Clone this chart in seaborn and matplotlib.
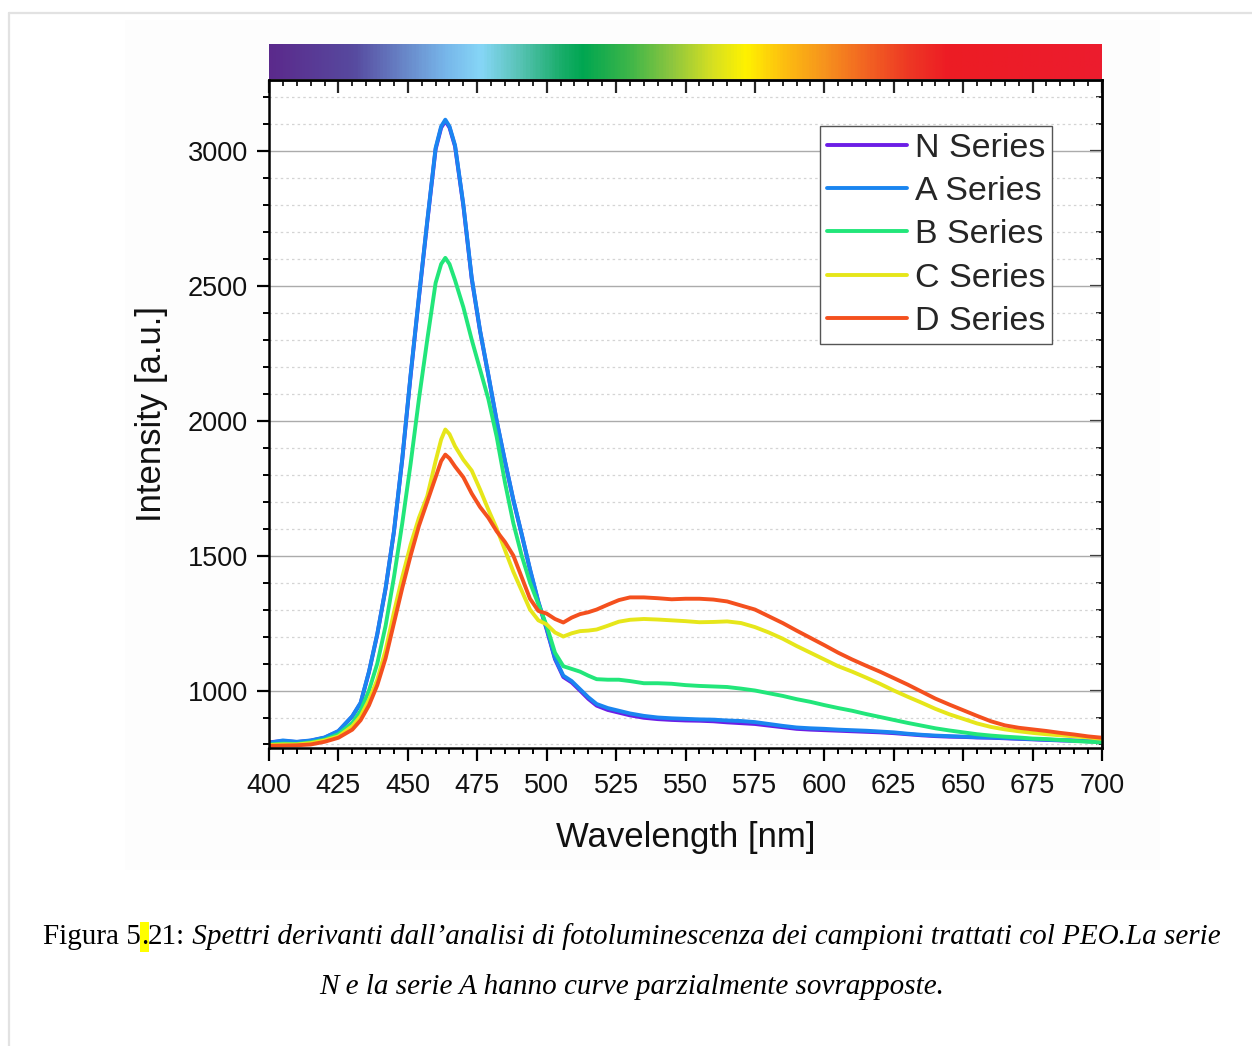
import numpy as np
import pandas as pd
import matplotlib
matplotlib.use("Agg")
import matplotlib.pyplot as plt
import seaborn as sns
from matplotlib.colors import LinearSegmentedColormap
from matplotlib.lines import Line2D
from matplotlib.patches import Rectangle
from matplotlib.ticker import MultipleLocator

# ---- photoluminescence spectra (intensity in a.u. vs wavelength in nm) ----
wavelength = [400, 405, 410, 415, 420, 425, 430, 433, 436, 439, 442, 445, 448, 451, 454,
              457, 460, 462, 463.5, 465, 467, 470, 473, 476, 479, 482, 485, 488, 491, 494,
              497, 500, 503, 506, 509, 512, 515, 518, 522, 526, 530, 535, 540, 545, 550,
              555, 560, 565, 570, 575, 580, 585, 590, 595, 600, 605, 610, 615, 620, 625,
              630, 635, 640, 645, 650, 655, 660, 665, 670, 675, 680, 685, 690, 695, 700]

n_series = [808, 813, 809, 814, 825, 849, 904, 953, 1068, 1208, 1378, 1588, 1857, 2166, 2456,
            2736, 3005, 3085, 3110, 3086, 3016, 2796, 2526, 2332, 2167, 1998, 1848, 1705, 1578, 1447,
            1327, 1226, 1116, 1050, 1030, 1000, 969, 944, 928, 918, 908, 899, 894, 891, 889,
            888, 886, 882, 879, 876, 870, 864, 858, 855, 853, 851, 849, 847, 845, 842,
            838, 834, 831, 829, 828, 826, 825, 823, 821, 819, 817, 815, 814, 812, 811]

a_series = [806, 815, 810, 815, 826, 850, 905, 955, 1070, 1210, 1380, 1590, 1860, 2170, 2460,
            2740, 3010, 3090, 3115, 3090, 3020, 2800, 2530, 2335, 2170, 2000, 1850, 1707, 1580, 1450,
            1330, 1230, 1120, 1055, 1035, 1005, 975, 950, 935, 925, 915, 906, 900, 897, 895,
            893, 892, 889, 887, 883, 876, 869, 863, 860, 858, 855, 853, 851, 848, 845,
            840, 836, 833, 831, 829, 827, 826, 824, 822, 820, 818, 816, 815, 813, 812]

b_series = [800, 803, 802, 808, 818, 838, 880, 925, 1000, 1100, 1240, 1420, 1620, 1840, 2080,
            2300, 2510, 2580, 2603, 2580, 2520, 2420, 2300, 2190, 2080, 1940, 1770, 1620, 1500, 1400,
            1320, 1240, 1140, 1090, 1080, 1070, 1055, 1042, 1040, 1040, 1035, 1027, 1027, 1025, 1020,
            1017, 1015, 1013, 1007, 1000, 990, 980, 968, 958, 946, 935, 925, 913, 902, 891,
            880, 870, 860, 852, 845, 838, 833, 829, 826, 822, 820, 817, 813, 810, 808]

c_series = [798, 800, 800, 805, 815, 830, 868, 905, 965, 1040, 1150, 1290, 1420, 1540, 1640,
            1720, 1850, 1930, 1967, 1950, 1905, 1855, 1815, 1745, 1670, 1600, 1520, 1440, 1370, 1300,
            1260, 1245, 1215, 1200, 1212, 1220, 1222, 1226, 1240, 1255, 1262, 1265, 1263, 1260, 1257,
            1253, 1254, 1256, 1250, 1235, 1215, 1192, 1165, 1140, 1115, 1090, 1070, 1048, 1025, 1000,
            977, 955, 932, 912, 895, 878, 865, 856, 849, 843, 838, 834, 830, 826, 821]

d_series = [795, 796, 797, 800, 810, 825, 855, 890, 945, 1020, 1120, 1250, 1380, 1500, 1610,
            1700, 1790, 1850, 1874, 1860, 1830, 1790, 1730, 1680, 1640, 1590, 1550, 1500, 1420, 1340,
            1295, 1285, 1265, 1252, 1270, 1283, 1290, 1300, 1318, 1335, 1345, 1345, 1342, 1338, 1340,
            1340, 1337, 1330, 1315, 1300, 1275, 1250, 1222, 1195, 1168, 1140, 1115, 1092, 1070, 1046,
            1022, 996, 970, 948, 927, 906, 886, 871, 862, 856, 850, 843, 837, 830, 825]

series_names = ["N Series", "A Series", "B Series", "C Series", "D Series"]
series_values = [n_series, a_series, b_series, c_series, d_series]
series_colors = ["#6c1ee6", "#1a85f0", "#22e67a", "#e6e61a", "#f4501e"]

# visible-spectrum strip above the plot: (wavelength, colour) stops
spectrum_nm = [400, 430, 450, 463, 476, 490, 505, 513, 530, 545, 560, 572, 585, 600, 615, 630, 645, 700]
spectrum_hex = ["#5b2a8c", "#574a9f", "#6a8ccc", "#77b6ea", "#86d6f7", "#58c3b5", "#19ad6a",
                "#00a651", "#3fb649", "#8dc63f", "#d7e021", "#fff200", "#fdc010", "#f7941d",
                "#f26522", "#ee3a24", "#ed1c24", "#ec1c2e"]

caption_line1 = [("Figura 5", "normal", None),
                 (".", "normal", "#ffff00"),
                 ("21:", "normal", None),
                 (" Spettri derivanti dall\u2019analisi di fotoluminescenza dei campioni trattati col PEO.La serie",
                  "italic", None)]
caption_line2 = "N e la serie A hanno curve parzialmente sovrapposte."

frame = pd.concat(
    [pd.DataFrame({"Wavelength": wavelength, "Intensity": vals, "Series": name})
     for name, vals in zip(series_names, series_values)],
    ignore_index=True)

sns.set_theme(style="white")
plt.rcParams["font.family"] = ["Liberation Sans", "DejaVu Sans"]

W, H = 1252, 1046
fig = plt.figure(figsize=(W / 100, H / 100), dpi=100)
fig.patch.set_facecolor("white")

# page edges and the faint backdrop of the embedded graphic
fig.add_artist(Rectangle((125 / W, 1 - 870 / H), (1160 - 125) / W, (870 - 20) / H,
                         transform=fig.transFigure, facecolor="#fdfdfd", edgecolor="none", zorder=0))
fig.add_artist(Line2D([9 / W, 9 / W], [0, 1 - 13 / H], transform=fig.transFigure,
                      color="#e2e2e2", lw=1.6))
fig.add_artist(Line2D([9 / W, 1], [1 - 13 / H, 1 - 13 / H], transform=fig.transFigure,
                      color="#e2e2e2", lw=1.6))

ax_l, ax_r, ax_b, ax_t = 269 / W, 1102 / W, 1 - 748 / H, 1 - 80 / H
ax = fig.add_axes([ax_l, ax_b, ax_r - ax_l, ax_t - ax_b])
ax.set_facecolor("white")

line_w = 2.8
sns.lineplot(data=frame, x="Wavelength", y="Intensity", hue="Series",
             hue_order=series_names, palette=series_colors, estimator=None,
             sort=False, lw=line_w, ax=ax, legend=False)
for ln in ax.lines:
    ln.set_solid_joinstyle("round")
    ln.set_solid_capstyle("round")

ax.set_xlim(400, 700)
ax.set_ylim(787, 3262)
ax.xaxis.set_major_locator(MultipleLocator(25))
ax.xaxis.set_minor_locator(MultipleLocator(5))
ax.yaxis.set_major_locator(MultipleLocator(500))
ax.yaxis.set_minor_locator(MultipleLocator(100))

ax.grid(False)
ax.yaxis.grid(True, which="major", color="#ababab", lw=1.0, ls="-", zorder=0)
ax.yaxis.grid(True, which="minor", color="#d4d4d4", lw=0.9, ls=(0, (2, 2.5)), zorder=0)
ax.set_axisbelow(True)

for sp in ax.spines.values():
    sp.set_color("black")
    sp.set_linewidth(1.8)

ax.tick_params(axis="both", which="major", direction="out", length=9, width=1.6,
               labelsize=19.5, color="black", labelcolor="#111111")
ax.tick_params(axis="x", which="major", pad=9)
ax.tick_params(axis="y", which="major", pad=6)
ax.tick_params(axis="both", which="minor", direction="out", length=4.5, width=1.4, color="black")
ax.tick_params(left=True, bottom=True, which="both")

# mirrored inward ticks on top and right
top = ax.secondary_xaxis("top")
top.xaxis.set_major_locator(MultipleLocator(25))
top.xaxis.set_minor_locator(MultipleLocator(5))
top.tick_params(axis="x", which="major", direction="in", length=9, width=1.6, labeltop=False)
top.tick_params(axis="x", which="minor", direction="in", length=4.5, width=1.4)
top.spines["top"].set_linewidth(1.8)
right = ax.secondary_yaxis("right")
right.yaxis.set_major_locator(MultipleLocator(500))
right.yaxis.set_minor_locator(MultipleLocator(100))
right.tick_params(axis="y", which="major", direction="in", length=9, width=1.6, labelright=False)
right.tick_params(axis="y", which="minor", direction="in", length=4.5, width=1.4)
right.spines["right"].set_linewidth(1.8)

ax.set_xlabel("Wavelength [nm]", fontsize=25, labelpad=16, color="#111111")
ax.set_ylabel("Intensity [a.u.]", fontsize=25, labelpad=14, color="#111111")

handles = [Line2D([0], [0], color=c, lw=line_w) for c in series_colors]
leg = ax.legend(handles, series_names, loc="upper right", bbox_to_anchor=(0.9405, 0.931),
                fontsize=24.5, frameon=True, fancybox=False, edgecolor="#555555",
                framealpha=1, borderpad=0.2, labelspacing=0.36, handlelength=2.35,
                handletextpad=0.25, borderaxespad=0)
leg.get_frame().set_linewidth(1.0)

# spectrum strip
cax = fig.add_axes([ax_l, 1 - 79 / H, ax_r - ax_l, 35 / H])
stops = [(nm - spectrum_nm[0]) / (spectrum_nm[-1] - spectrum_nm[0]) for nm in spectrum_nm]
cmap = LinearSegmentedColormap.from_list("spectrum", list(zip(stops, spectrum_hex)))
cax.imshow(np.linspace(0, 1, 600)[None, :], aspect="auto", cmap=cmap,
           extent=[spectrum_nm[0], spectrum_nm[-1], 0, 1])
cax.set_axis_off()

# caption
fig.canvas.draw()
renderer = fig.canvas.get_renderer()
cap_font = ["Liberation Serif", "DejaVu Serif"]
cap_size = 21
y1 = 1 - 937 / H
parts = []
for txt, style, hl in caption_line1:
    t = fig.text(0, y1, txt, fontsize=cap_size, family=cap_font, style=style,
                 va="center", ha="left", color="black", zorder=3)
    parts.append((t, hl))
widths = [t.get_window_extent(renderer).width for t, _ in parts]
total = sum(widths)
x = 632 - total / 2
for (t, hl), w in zip(parts, widths):
    t.set_x(x / W)
    if hl:
        fig.add_artist(Rectangle(((x - 0.5) / W, 1 - 952 / H), (w + 1) / W, 30 / H,
                                 transform=fig.transFigure, facecolor=hl,
                                 edgecolor="none", zorder=2))
    x += w
fig.text(632 / W, 1 - 987 / H, caption_line2, fontsize=cap_size, family=cap_font,
         style="italic", ha="center", va="center", color="black")

fig.savefig("out.png", dpi=100, facecolor="white")
